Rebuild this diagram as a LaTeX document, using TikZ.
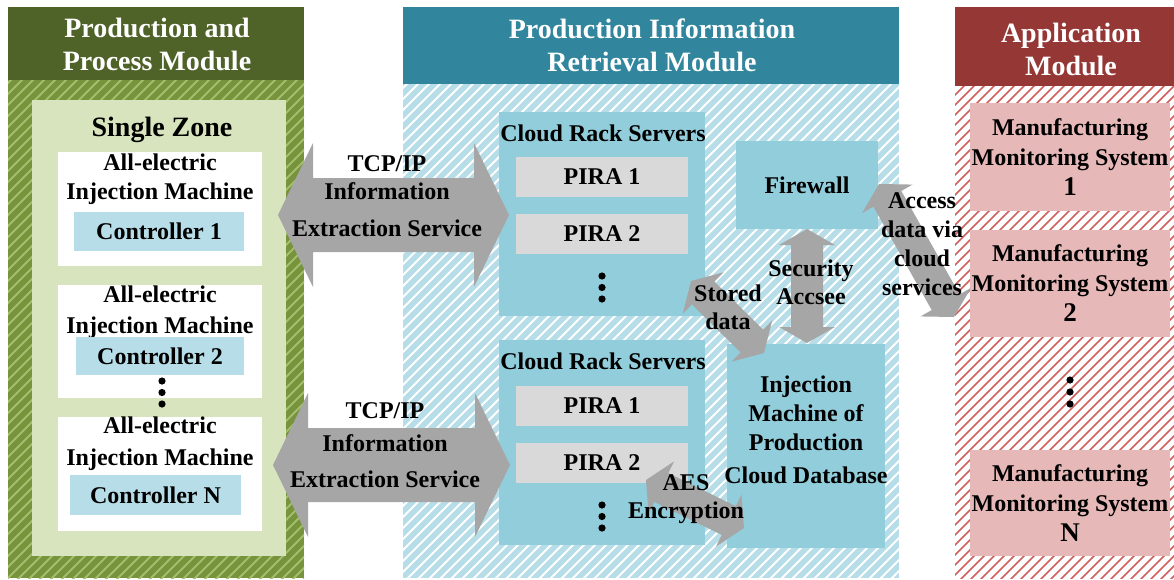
\documentclass[tikz,border=0pt]{standalone}
\usepackage{fontspec}
\setmainfont{Liberation Serif}
\usetikzlibrary{calc,fit}
\definecolor{hdrgreen}{HTML}{4F6228}
\definecolor{hatchgreen}{HTML}{77933C}
\definecolor{stripegreen}{HTML}{A2BF6E}
\definecolor{zonegreen}{HTML}{D7E4BD}
\definecolor{hdrteal}{HTML}{31859C}
\definecolor{hatchblue}{HTML}{B7DEE8}
\definecolor{rackblue}{HTML}{92CDDC}
\definecolor{ctrlblue}{HTML}{B7DEE8}
\definecolor{piragray}{HTML}{D9D9D9}
\definecolor{hdrred}{HTML}{953735}
\definecolor{stripered}{HTML}{D0605C}
\definecolor{mmspink}{HTML}{E6B9B8}
\definecolor{arrowgray}{HTML}{A6A6A6}
\tikzset{
  every node/.style={inner sep=0pt, outer sep=0pt, align=center, font=\bfseries\fontsize{24}{30}\selectfont},
  bigtxt/.style={font=\bfseries\fontsize{28}{33}\selectfont},
  hdrtxt/.style={bigtxt, text=white},
  rbox/.style={rectangle, draw=none, inner sep=0pt},
  arrowfill/.style={fill=arrowgray},
  dotfill/.style={fill=black},
}
\newcommand\dblarrow[6]{%
  \coordinate (#1p) at ($(#2)!#4!(#3)$);
  \coordinate (#1q) at ($(#3)!#4!(#2)$);
  \fill[arrowfill] (#2) -- ($(#1p)!#5!90:(#3)$) -- ($(#1p)!#6!90:(#3)$)
    -- ($(#1q)!#6!-90:(#2)$) -- ($(#1q)!#5!-90:(#2)$) -- (#3)
    -- ($(#1q)!#5!90:(#2)$) -- ($(#1q)!#6!90:(#2)$)
    -- ($(#1p)!#6!-90:(#3)$) -- ($(#1p)!#5!-90:(#3)$) -- cycle;
}
\newcommand\dotcol[4]{% name, x, y-top, step
  \fill[dotfill] (#2,#3) circle (3.6) (#2,#3+#4) circle (3.6) (#2,#3+2*#4) circle (3.6);
}
\begin{document}
\begin{tikzpicture}[x=1pt,y=-1pt]
\useasboundingbox (0,0) rectangle (1174,579);
\fill[white] (0,0) rectangle (1174,579);

% ---------- hatched backgrounds ----------
\begin{scope}
  \clip (8,80) rectangle (304,578);
  \fill[hatchgreen] (8,80) rectangle (304,578);
  \foreach \x in {-500,-489,...,320} \draw[stripegreen, line width=2] (\x,580) -- ++(600,-600);
\end{scope}
\begin{scope}
  \clip (403,84) rectangle (899,578);
  \fill[hatchblue] (403,84) rectangle (899,578);
  \foreach \x in {-100,-89,...,910} \draw[white, line width=2] (\x,580) -- ++(600,-600);
\end{scope}
\begin{scope}
  \clip (955,86) rectangle (1174,578);
  \fill[white] (955,86) rectangle (1174,578);
  \foreach \x in {450,460,...,1180} \draw[stripered, line width=1.6] (\x,580) -- ++(600,-600);
\end{scope}

% ---------- headers ----------
\node[rbox, fill=hdrgreen, fit={(8,7) (304,80)}] (hdrL) {};
\node[hdrtxt] at (157,44) {Production and\\Process Module};
\node[rbox, fill=hdrteal, fit={(403,7) (899,84)}] (hdrM) {};
\node[hdrtxt] at (652,45) {Production Information\\Retrieval Module};
\node[rbox, fill=hdrred, fit={(955,7) (1174,86)}] (hdrR) {};
\node[hdrtxt] at (1071,49) {Application\\Module};

% ---------- left module ----------
\node[rbox, fill=zonegreen, fit={(32,100) (286,556)}] (zone) {};
\node[bigtxt] at (162,130) {Single Zone};
\node[rbox, fill=white, fit={(58,152) (262,266)}] (m1) {};
\node at (160,179) {All-electric\\[-1pt]Injection Machine};
\node[rbox, fill=ctrlblue, fit={(74,212) (244,251)}] (c1) {};
\node at (c1) {Controller 1};
\node[rbox, fill=white, fit={(58,285) (262,398)}] (m2) {};
\node at (160,312) {All-electric\\[1pt]Injection Machine};
\node[rbox, fill=ctrlblue, fit={(76,337) (244,375)}] (c2) {};
\node at (c2) {Controller 2};
\node[rbox, fill=white, fit={(58,417) (262,531)}] (m3) {};
\node at (160,444) {All-electric\\[2pt]Injection Machine};
\node[rbox, fill=ctrlblue, fit={(70,475) (241,515)}] (cN) {};
\node at (cN) {Controller N};
\dotcol{dl}{162}{381}{11.5}

% ---------- middle module ----------
\node[rbox, fill=rackblue, fit={(499,112) (705,316)}] (rack1) {};
\node at (603,133) {Cloud Rack Servers};
\node[rbox, fill=piragray, fit={(516,157) (688,197)}] (p11) {};
\node at (p11) {PIRA 1};
\node[rbox, fill=piragray, fit={(516,214) (688,254)}] (p12) {};
\node at (p12) {PIRA 2};
\dotcol{d1}{602}{276}{11.5}
\node[rbox, fill=rackblue, fit={(499,340) (705,545)}] (rack2) {};
\node at (603,361) {Cloud Rack Servers};
\node[rbox, fill=piragray, fit={(516,386) (688,426)}] (p21) {};
\node at (p21) {PIRA 1};
\node[rbox, fill=piragray, fit={(516,443) (688,483)}] (p22) {};
\node at (p22) {PIRA 2};
\dotcol{d2}{602}{505}{11.5}
\node[rbox, fill=rackblue, fit={(736,141) (878,229)}] (fw) {};
\node at (fw) {Firewall};
\node[rbox, fill=rackblue, fit={(727,344) (885,548)}] (db) {};
\node at (806,430) {Injection\\[-1pt]Machine of\\[-1pt]Production\\[3pt]Cloud Database};

% ---------- right module ----------
\node[rbox, fill=mmspink, fit={(970,103) (1170,211)}] (mms1) {};
\node at (1070,157) {Manufacturing\\Monitoring System\\{\fontsize{27}{30}\selectfont 1}};
\node[rbox, fill=mmspink, fit={(970,230) (1170,337)}] (mms2) {};
\node at (1070,283) {Manufacturing\\Monitoring System\\{\fontsize{27}{30}\selectfont 2}};
\node[rbox, fill=mmspink, fit={(970,450) (1170,556)}] (mmsN) {};
\node at (1070,503) {Manufacturing\\Monitoring System\\{\fontsize{27}{30}\selectfont N}};
\dotcol{dr}{1070}{380}{12}

% ---------- arrows ----------
\coordinate (t1a) at (278,215); \coordinate (t1b) at (509,215);
\coordinate (t2a) at (273,465); \coordinate (t2b) at (510,465);
\coordinate (seca) at (807,229); \coordinate (secb) at (807,343);
\coordinate (sta) at (691,281); \coordinate (stb) at (764,353);
\coordinate (aca) at (879,184); \coordinate (acb) at (954,317);
\coordinate (aesa) at (646,480); \coordinate (aesb) at (744,528);
\dblarrow{t1}{t1a}{t1b}{35pt}{72pt}{37pt}
\dblarrow{t2}{t2a}{t2b}{35pt}{72pt}{37pt}
\dblarrow{sec}{seca}{secb}{16pt}{28pt}{16pt}
\dblarrow{st}{sta}{stb}{17pt}{29pt}{16pt}
\dblarrow{ac}{aca}{acb}{17pt}{29pt}{16pt}
\dblarrow{aes}{aesa}{aesb}{17pt}{29pt}{16pt}

% ---------- arrow labels ----------
\node at (387,196) {TCP/IP\\[-2pt]Information\\[7pt]Extraction Service};
\node at (385,445) {TCP/IP\\[3pt]Information\\[6pt]Extraction Service};
\node at (728,307) {Stored\\[-2pt]data};
\node at (811,282) {Security\\[-2pt]Accsee};
\node at (922,244) {Access\\[-1pt]data via\\[-1pt]cloud\\[-1pt]services};
\node at (686,499) {AES\\[-2pt]Encryption};
\end{tikzpicture}
\end{document}
